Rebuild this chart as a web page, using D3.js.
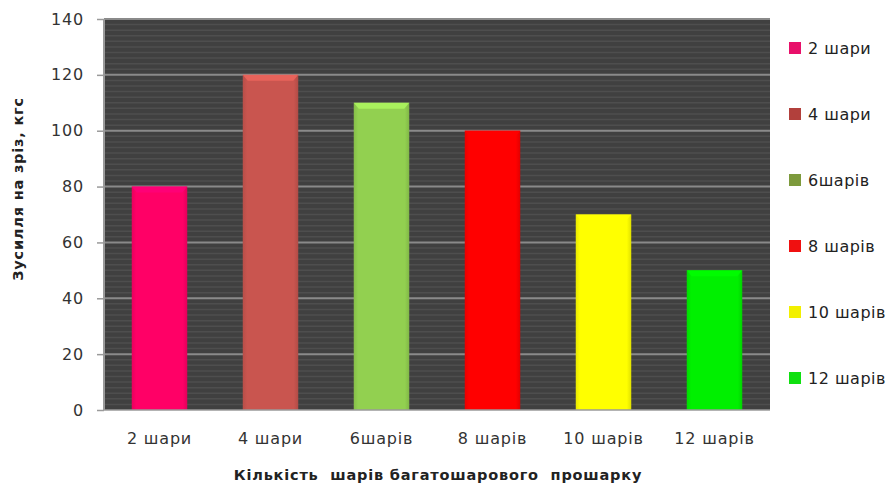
<!DOCTYPE html>
<html>
<head>
<meta charset="utf-8">
<script src="https://cdn.jsdelivr.net/npm/d3@7"></script>
<style>
  body { margin: 0; background: #fff; }
  text { font-family: "DejaVu Sans", Verdana, sans-serif; }
</style>
</head>
<body>
<svg id="chart" width="896" height="486"></svg>
<script>
// data
const categories = ["2 шари", "4 шари", "6шарів", "8 шарів", "10 шарів", "12 шарів"];
const values = [80, 120, 110, 100, 70, 50];
const barColors = ["#ff0066", "#c9554f", "#92d050", "#ff0000", "#ffff00", "#00f000"];
const legendColors = ["#e8106a", "#b2403c", "#7d9a3c", "#f01010", "#f2f000", "#10e010"];
const yTicks = [0, 20, 40, 60, 80, 100, 120, 140];

const svg = d3.select("#chart");
const margin = {top: 19, right: 126, bottom: 76, left: 104};
const width = 896 - margin.left - margin.right,
      height = 486 - margin.top - margin.bottom;

const defs = svg.append("defs");
barColors.forEach(function(c, i) {
  const g = defs.append("linearGradient").attr("id", "bar" + i)
    .attr("x1", 0).attr("x2", 1).attr("y1", 0).attr("y2", 0);
  g.append("stop").attr("offset", "0%").attr("stop-color", d3.color(c).darker(0.25));
  g.append("stop").attr("offset", "8%").attr("stop-color", c);
  g.append("stop").attr("offset", "92%").attr("stop-color", c);
  g.append("stop").attr("offset", "100%").attr("stop-color", d3.color(c).darker(0.35));
});

const g = svg.append("g").attr("transform", `translate(${margin.left},${margin.top})`);

const x = d3.scaleBand().domain(categories).range([0, width]).paddingInner(0.5).paddingOuter(0.25);
const y = d3.scaleLinear().domain([0, 140]).range([height, 0]);

// plot background
g.append("rect").attr("width", width).attr("height", height).attr("fill", "#404040");

// minor stripes
g.append("g").selectAll("line")
  .data(d3.range(0, 140, 2).filter(v => v % 20 !== 0))
  .join("line")
    .attr("x1", 0).attr("x2", width)
    .attr("y1", d => y(d)).attr("y2", d => y(d))
    .attr("stroke", "#4e4e4e").attr("stroke-width", 1.5);

// major gridlines
g.append("g").selectAll("line")
  .data(yTicks.filter(v => v > 0))
  .join("line")
    .attr("x1", 0).attr("x2", width)
    .attr("y1", d => y(d)).attr("y2", d => y(d))
    .attr("stroke", "#8a8a8a").attr("stroke-width", 2);

// bars
const bars = g.append("g").selectAll("g")
  .data(values)
  .join("g");

bars.append("rect")
  .attr("x", (d, i) => x(categories[i]))
  .attr("y", d => y(d))
  .attr("width", x.bandwidth())
  .attr("height", d => height - y(d))
  .attr("fill", (d, i) => "url(#bar" + i + ")");

// bevel on top
bars.append("path")
  .attr("d", function(d, i) {
    const x0 = x(categories[i]), x1 = x0 + x.bandwidth(), y0 = y(d);
    return `M${x0},${y0}L${x1},${y0}L${x1 - 5},${y0 + 6}L${x0 + 5},${y0 + 6}Z`;
  })
  .attr("fill", (d, i) => d3.color(barColors[i]).brighter(0.5))
  .attr("opacity", 0.8);

// left axis line + bottom line
g.append("line").attr("x1", 0).attr("x2", 0).attr("y1", 0).attr("y2", height)
  .attr("stroke", "#9a9a9a").attr("stroke-width", 2);
g.append("line").attr("x1", 0).attr("x2", width).attr("y1", height).attr("y2", height)
  .attr("stroke", "#9a9a9a").attr("stroke-width", 1.5);

const yAxis = g.append("g")
  .call(d3.axisLeft(y).tickValues(yTicks).tickSize(7).tickPadding(13).tickFormat(d3.format("d")));
yAxis.select(".domain").remove();
yAxis.selectAll(".tick line").attr("stroke", "#9a9a9a").attr("stroke-width", 1.5);
yAxis.selectAll(".tick text").attr("fill", "#333")
  .style("font-size", "16px").style("letter-spacing", "0.8px");

const xAxis = g.append("g")
  .attr("transform", `translate(0,${height})`)
  .call(d3.axisBottom(x).tickSize(0).tickPadding(23));
xAxis.select(".domain").remove();
xAxis.selectAll(".tick text").attr("fill", "#333")
  .style("font-size", "16px").style("letter-spacing", "0.8px");

// axis titles
svg.append("text")
  .attr("x", margin.left + width / 2 + 1)
  .attr("y", 480)
  .attr("text-anchor", "middle")
  .attr("font-weight", "bold")
  .attr("font-size", 14.5)
  .attr("fill", "#222")
  .style("letter-spacing", "0.8px")
  .style("white-space", "pre")
  .text("Кількість  шарів багатошарового  прошарку");

svg.append("text")
  .attr("transform", "translate(23,189) rotate(-90)")
  .attr("text-anchor", "middle")
  .attr("font-weight", "bold")
  .attr("font-size", 14.5)
  .attr("fill", "#222")
  .style("letter-spacing", "0.8px")
  .text("Зусилля на зріз, кгс");

// legend
const legend = svg.append("g").attr("transform", "translate(789,48)");
const item = legend.selectAll("g")
  .data(categories)
  .join("g")
    .attr("transform", (d, i) => `translate(0,${i * 66})`);
item.append("rect")
  .attr("x", 0).attr("y", -6).attr("width", 12).attr("height", 12)
  .attr("fill", (d, i) => legendColors[i]);
item.append("text")
  .attr("x", 19).attr("y", 0).attr("dy", "0.35em")
  .attr("fill", "#222")
  .style("font-size", "16px").style("letter-spacing", "0.5px")
  .text(d => d);
</script>
</body>
</html>
